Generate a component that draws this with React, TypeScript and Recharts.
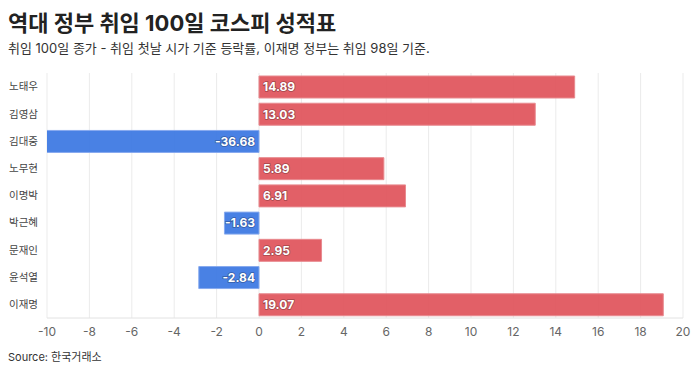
import { BarChart, Bar, XAxis, YAxis, CartesianGrid, Cell, LabelList } from 'recharts';

const presidents = ['노태우', '김영삼', '김대중', '노무현', '이명박', '박근혜', '문재인', '윤석열', '이재명'];
const changes = [14.89, 13.03, -36.68, 5.89, 6.91, -1.63, 2.95, -2.84, 19.07];
const xTicks = [-10, -8, -6, -4, -2, 0, 2, 4, 6, 8, 10, 12, 14, 16, 18, 20];

const RED = '#e0525a';
const BLUE = '#3a76e2';
const FONT = "Inter, 'Noto Sans CJK KR', 'Noto Sans', sans-serif";

const data = presidents.map((name, i) => ({ name, value: changes[i] }));

// label always sits next to the zero line, inside the bar
function ValueLabel(props: any) {
  const { x, y, width, height, value } = props;
  const left = Math.min(x, x + width);
  const right = Math.max(x, x + width);
  const pos = value >= 0;
  const tx = pos ? left + 4 : right - 4;
  return (
    <text
      x={tx}
      y={y + height / 2}
      dy="0.36em"
      textAnchor={pos ? 'start' : 'end'}
      fill="#fff"
      fontSize={12}
      fontWeight={700}
      fontFamily={FONT}
      stroke="rgba(0,0,0,0.3)"
      strokeWidth={1.5}
      paintOrder="stroke"
    >
      {value.toFixed(2)}
    </text>
  );
}

export default function App() {
  document.body.style.margin = '0';
  return (
    <div style={{ position: 'relative', width: 700, height: 372, background: '#fff', fontFamily: FONT, overflow: 'hidden' }}>
      <div style={{ position: 'absolute', left: 8, top: 5, fontSize: 22, fontWeight: 700, color: '#222' }}>
        역대 정부 취임 100일 코스피 성적표
      </div>
      <div style={{ position: 'absolute', left: 8, top: 38, fontSize: 13, color: '#333' }}>
        취임 100일 종가 - 취임 첫날 시가 기준 등락률, 이재명 정부는 취임 98일 기준.
      </div>
      <div style={{ position: 'absolute', top: 0, left: 0 }}>
        <BarChart
          width={700}
          height={345}
          data={data}
          layout="vertical"
          margin={{ top: 73, right: 17, left: 0, bottom: 0 }}
          barSize={22}
        >
          <CartesianGrid horizontal={false} stroke="#ebebeb" />
          <XAxis
            type="number"
            domain={[-10, 20]}
            ticks={xTicks}
            allowDataOverflow
            interval={0}
            height={27}
            tickLine={false}
            axisLine={{ stroke: '#e2e2e2' }}
            tick={{ fill: '#666', fontSize: 12, fontFamily: FONT }}
            tickMargin={3}
          />
          <YAxis
            type="category"
            dataKey="name"
            width={47}
            tickLine={false}
            axisLine={false}
            tickMargin={3}
            tick={{ fill: '#444', fontSize: 10.5, fontFamily: FONT }}
          />
          <Bar dataKey="value" isAnimationActive={false} fillOpacity={0.92}>
            {data.map((d, i) => (
              <Cell key={`c-${i}`} fill={d.value >= 0 ? RED : BLUE} stroke={d.value >= 0 ? '#e88a8f' : '#86a9ee'} strokeWidth={1} />
            ))}
            <LabelList dataKey="value" content={ValueLabel} />
          </Bar>
        </BarChart>
      </div>
      <div style={{ position: 'absolute', left: 8, top: 348, fontSize: 11, color: '#333' }}>
        Source: 한국거래소
      </div>
    </div>
  );
}
